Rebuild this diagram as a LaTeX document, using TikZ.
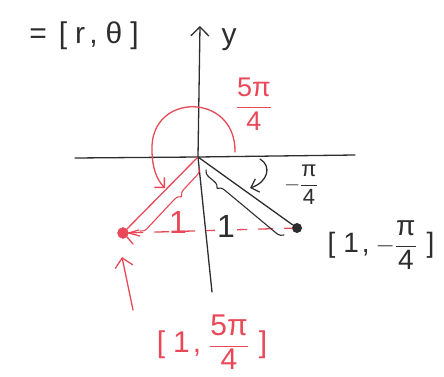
\documentclass[tikz,border=0pt]{standalone}
\usepackage{fontspec}
\setmainfont{Liberation Sans}
\usetikzlibrary{decorations.pathreplacing,arrows.meta}
\definecolor{pen}{RGB}{232,72,88}
\definecolor{ink}{RGB}{45,45,45}
\begin{document}
\begin{tikzpicture}[x=1pt,y=-1pt, line cap=round, line join=round,
  redl/.style={draw=pen, line width=1.3pt},
  blkl/.style={draw=ink, line width=1.3pt},
  redtxt/.style={text=pen, inner sep=0pt},
  blktxt/.style={text=ink, inner sep=0pt}]
\useasboundingbox (0,0) rectangle (444,377);
% axes
\coordinate (O) at (198,157);
\coordinate (xl) at (75,158);
\coordinate (xr) at (355,155);
\coordinate (yt) at (200,26);
\coordinate (yb) at (212,292);
\draw[blkl] (xl) -- (O) -- (xr);
\draw[blkl] (yb) -- (O);
\draw[blkl, -{Straight Barb[length=9pt,width=18pt]}] (O) -- (yt);
\node[blktxt, font=\fontsize{30}{34}\selectfont] (ylab) at (229,40) {y};
\node[blktxt, font=\fontsize{30}{36}\selectfont] (eq) at (84,36) {=\hspace{12pt}[\hspace{8pt}r\hspace{4pt},\hspace{8pt}θ\hspace{8pt}]};
% points
\node[circle, fill=pen, draw=pen, minimum size=11pt, inner sep=0pt] (P2) at (123,233) {};
\node[circle, fill=ink, minimum size=10pt, inner sep=0pt] (P1) at (297,228) {};
\draw[redl] (P2.east) -- ++(10,-3) (P2.east) -- ++(11,3) (P2.south east) -- ++(6,7);
% dashed line
\draw[redl, dash pattern=on 14pt off 12pt] (P2) -- (P1);
% radius lines
\draw[redl] (O) -- (P2);
\draw[blkl] (O) -- (P1);
% braces
\coordinate (rb1) at (140,231);
\coordinate (rb2) at (199,168);
\draw[redl, line width=1.1pt, decorate, decoration={brace, mirror, amplitude=7pt, aspect=0.62}] (rb1) -- (rb2);
\coordinate (bb1) at (206,170);
\coordinate (bb2) at (284,235);
\draw[blkl, line width=1.1pt, decorate, decoration={brace, mirror, amplitude=7pt, aspect=0.2}] (bb1) -- (bb2);
\node[redtxt, font=\fontsize{32}{36}\selectfont] (r1) at (178,222) {1};
\node[blktxt, fill=white, inner sep=2pt, font=\fontsize{32}{36}\selectfont] (b1) at (226,226) {1};
% angle arcs
\coordinate (a1) at (235,152);
\coordinate (a2) at (165,188);
\draw[redl, -{Straight Barb[length=7pt,width=14pt]}] (a1) .. controls (236,92) and (150,92) .. (152,150) .. controls (152,168) and (157,180) .. (a2);
\coordinate (c1) at (260,159);
\coordinate (c2) at (250,188);
\draw[blkl, -{Straight Barb[length=7pt,width=14pt]}] (c1) .. controls (272,166) and (268,182) .. (c2);
% angle labels
\node[redtxt, font=\fontsize{27}{30}\selectfont] (l54) at (254,104) {$\displaystyle\frac{\mbox{5π}}{\mbox{4}}$};
\node[blktxt, font=\fontsize{22}{26}\selectfont] (lm4) at (301,185) {$\displaystyle-\frac{\mbox{π}}{\mbox{4}}$};
% point labels
\node[blktxt, font=\fontsize{28}{32}\selectfont] (p1lab) at (381,245) {[\hspace{8pt}1\hspace{3pt},\hspace{6pt}$\displaystyle-\frac{\mbox{π}}{\mbox{4}}$\hspace{10pt}]};
\node[redtxt, font=\fontsize{30}{34}\selectfont] (p2lab) at (212,342) {[\hspace{8pt}1\hspace{3pt},\hspace{8pt}$\displaystyle\frac{\mbox{5π}}{\mbox{4}}$\hspace{10pt}]};
% pointer arrow
\coordinate (pa) at (133,310);
\coordinate (ptip) at (122,257);
\draw[redl, -{Straight Barb[length=9pt,width=18pt]}] (pa) -- (ptip);
\end{tikzpicture}
\end{document}
